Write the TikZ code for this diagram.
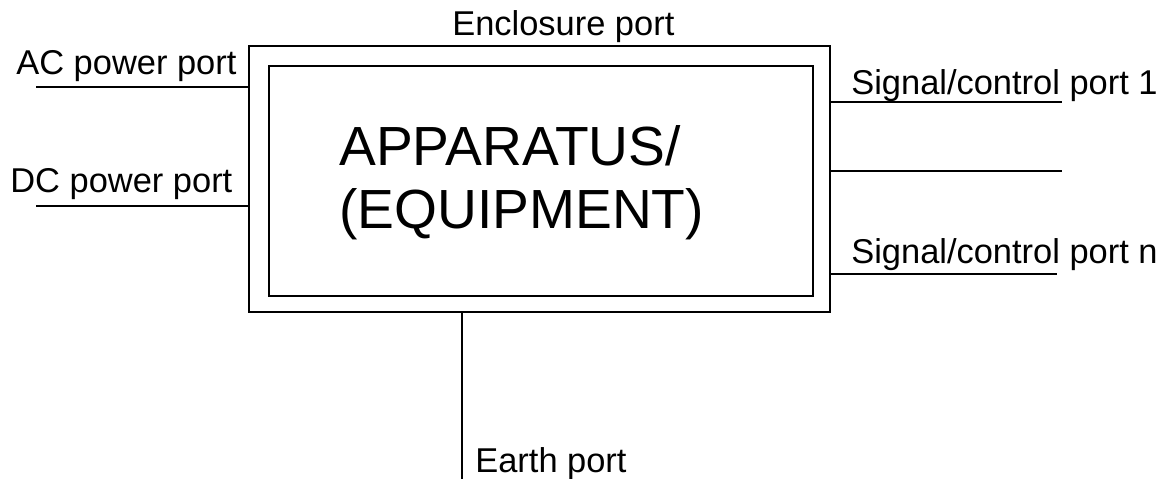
\documentclass[tikz,border=0pt]{standalone}
\usepackage{fontspec}
\setmainfont{Liberation Sans}
\begin{document}
\begin{tikzpicture}[
    x=0.02cm, y=-0.02cm,
    box/.style={draw, line width=0.75pt, minimum width=#1, inner sep=0pt},
    lbl/.style={anchor=base west, inner sep=0pt, font=\fontsize{19.6}{23}\selectfont},
    big/.style={anchor=base west, inner sep=0pt, align=left, font=\fontsize{31.4}{35.9}\selectfont},
    wire/.style={line width=0.75pt}
]
\useasboundingbox (0,0) rectangle (1170,479);

% Enclosure and apparatus
\node[box=11.62cm, minimum height=5.32cm] (enclosure) at (539.5,179) {};
\node[box=10.88cm, minimum height=4.6cm] (apparatus) at (541,181) {};
\node[big] (name) at (339,229) {APPARATUS/\\(EQUIPMENT)};

% Free ends of the ports
\coordinate (acend) at (36,87);
\coordinate (dcend) at (36,206);
\coordinate (sig1end) at (1062,102);
\coordinate (sig2end) at (1062,171);
\coordinate (signend) at (1057,274);
\coordinate (earthend) at (462,479);

\draw[wire] (acend) -- (acend -| enclosure.west);
\draw[wire] (dcend) -- (dcend -| enclosure.west);
\draw[wire] (enclosure.east |- sig1end) -- (sig1end);
\draw[wire] (enclosure.east |- sig2end) -- (sig2end);
\draw[wire] (enclosure.east |- signend) -- (signend);
\draw[wire] (earthend |- enclosure.south) -- (earthend);

% Port labels
\node[lbl] (ac) at (16,75) {AC power port};
\node[lbl] (dc) at (10,193) {DC power port};
\node[lbl] (encl) at (452,36) {Enclosure port};
\node[lbl] (sig1) at (851,95) {Signal/control port 1};
\node[lbl] (sign) at (851,264) {Signal/control port n};
\node[lbl] (earth) at (475,473) {Earth port};
\end{tikzpicture}
\end{document}
